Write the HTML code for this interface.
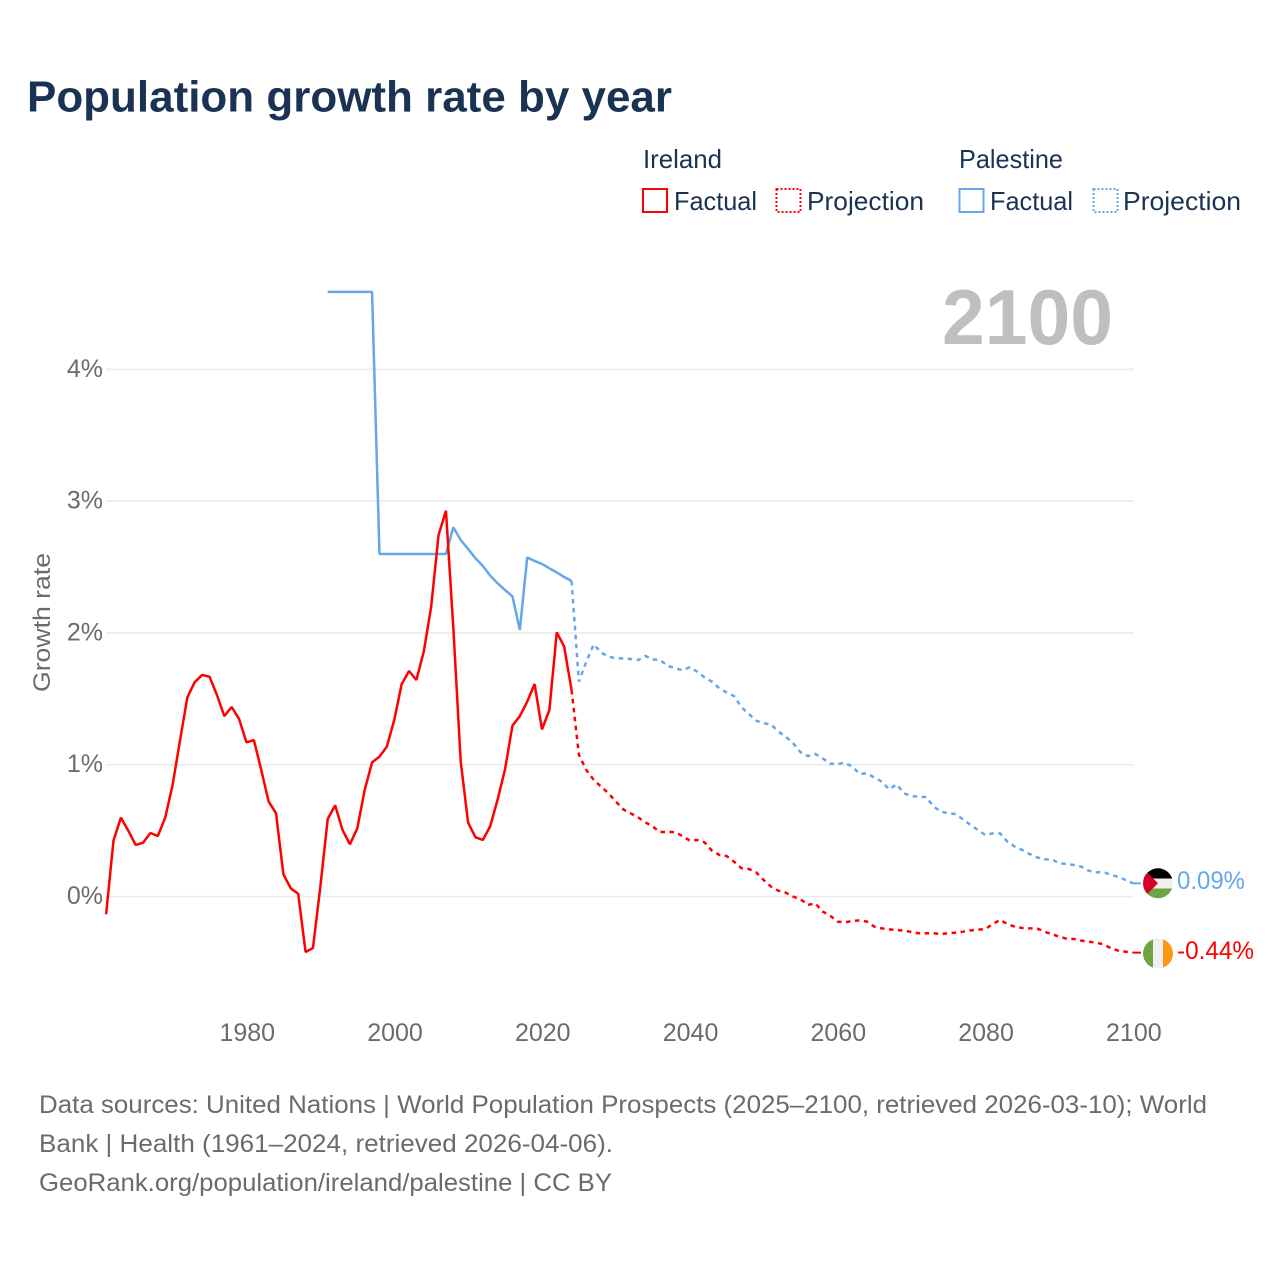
<!DOCTYPE html>
<html lang="en">
<head>
<meta charset="utf-8">
<title>Population growth rate by year</title>
<style>
html,body{margin:0;padding:0;background:#fff;width:1280px;height:1280px;overflow:hidden}
svg{display:block}
text{font-family:"Liberation Sans",sans-serif}
</style>
</head>
<body>
<svg id="chart" width="1280" height="1280" viewBox="0 0 1280 1280">
  <defs>
    <clipPath id="clip-pal"><circle cx="1158" cy="883.3" r="15"/></clipPath>
    <clipPath id="clip-irl"><circle cx="1158" cy="953.5" r="15"/></clipPath>
  </defs>
  <rect x="0" y="0" width="1280" height="1280" fill="#fff"/>
  <text x="27" y="111.5" font-size="44" font-weight="700" fill="#1a3353" textLength="645" lengthAdjust="spacingAndGlyphs">Population growth rate by year</text>

  <g font-size="26" fill="#1a3353">
    <text x="643" y="168" textLength="79" lengthAdjust="spacingAndGlyphs">Ireland</text>
    <text x="959" y="168" textLength="104" lengthAdjust="spacingAndGlyphs">Palestine</text>
    <rect x="643" y="189" width="24" height="23" fill="none" stroke="#ff0000" stroke-width="2"/>
    <text x="674" y="210" textLength="83" lengthAdjust="spacingAndGlyphs">Factual</text>
    <rect x="776.5" y="189" width="24" height="23" fill="none" stroke="#ff0000" stroke-width="2" stroke-dasharray="2 2"/>
    <text x="807" y="210" textLength="117" lengthAdjust="spacingAndGlyphs">Projection</text>
    <rect x="959.5" y="189" width="24" height="23" fill="none" stroke="#62a8ea" stroke-width="2"/>
    <text x="990" y="210" textLength="83" lengthAdjust="spacingAndGlyphs">Factual</text>
    <rect x="1093.5" y="189" width="24" height="23" fill="none" stroke="#62a8ea" stroke-width="2" stroke-dasharray="2 2"/>
    <text x="1123" y="210" textLength="118" lengthAdjust="spacingAndGlyphs">Projection</text>
  </g>

  <g id="grid"></g>
  <g id="yticks"></g>
  <g id="xticks"></g>
  <text transform="translate(50,622.5) rotate(-90)" text-anchor="middle" font-size="24" fill="#6b6b6b" textLength="139" lengthAdjust="spacingAndGlyphs">Growth rate</text>
  <text x="942" y="344" font-size="78" font-weight="700" fill="#bfbfbf" textLength="171" lengthAdjust="spacingAndGlyphs">2100</text>
  <g id="series"></g>

  <g clip-path="url(#clip-pal)">
    <rect x="1143" y="868" width="31" height="10.5" fill="#000"/>
    <rect x="1143" y="878.5" width="31" height="10" fill="#f0f0f0"/>
    <rect x="1143" y="888.5" width="31" height="10" fill="#6da544"/>
    <polygon points="1143,868.3 1158,883.3 1143,898.3" fill="#d80027"/>
  </g>
  <g clip-path="url(#clip-irl)">
    <rect x="1143" y="938" width="10" height="31" fill="#6da544"/>
    <rect x="1153" y="938" width="10" height="31" fill="#f0f0f0"/>
    <rect x="1163" y="938" width="10" height="31" fill="#ff9811"/>
  </g>
  <text x="1177" y="889" font-size="25" fill="#62a8ea" textLength="68" lengthAdjust="spacingAndGlyphs">0.09%</text>
  <text x="1177" y="959" font-size="25" fill="#ff0000" textLength="77" lengthAdjust="spacingAndGlyphs">-0.44%</text>

  <g font-size="25" fill="#6b6b6b">
    <text x="39" y="1113" textLength="1168" lengthAdjust="spacingAndGlyphs">Data sources: United Nations | World Population Prospects (2025–2100, retrieved 2026-03-10); World</text>
    <text x="39" y="1152" textLength="574" lengthAdjust="spacingAndGlyphs">Bank | Health (1961–2024, retrieved 2026-04-06).</text>
    <text x="39" y="1191" textLength="573" lengthAdjust="spacingAndGlyphs">GeoRank.org/population/ireland/palestine | CC BY</text>
  </g>
</svg>
<script>
const yTickValues = [0, 1, 2, 3, 4];
const yTickLabels = ["0%", "1%", "2%", "3%", "4%"];
const xTickYears = [1980, 2000, 2020, 2040, 2060, 2080, 2100];

const irelandFactualStart = 1961;
const irelandFactual = [
  -0.135, 0.424, 0.598, 0.50, 0.391, 0.408, 0.482, 0.459, 0.598, 0.846,
  1.182, 1.511, 1.627, 1.681, 1.668, 1.529, 1.369, 1.438, 1.347, 1.170,
  1.187, 0.960, 0.72, 0.631, 0.168, 0.062, 0.021, -0.421, -0.391, 0.075,
  0.588, 0.692, 0.505, 0.396, 0.517, 0.808, 1.018, 1.061, 1.137, 1.339,
  1.61, 1.711, 1.643, 1.858, 2.199, 2.743, 2.927, 2.035, 1.023, 0.56,
  0.449, 0.429, 0.535, 0.737, 0.965, 1.296, 1.369, 1.478, 1.612, 1.268,
  1.415, 2.004, 1.896, 1.567
];
const irelandProjectionStart = 2024;
const irelandProjection = [
  1.567,
  1.074, 0.96, 0.884, 0.833, 0.783, 0.72, 0.661, 0.631, 0.601, 0.563,
  0.53, 0.489, 0.489, 0.489, 0.459, 0.424, 0.429, 0.411, 0.348, 0.315,
  0.307, 0.264, 0.214, 0.209, 0.183, 0.125, 0.075, 0.044, 0.029, -0.001,
  -0.021, -0.064, -0.052, -0.115, -0.145, -0.191, -0.196, -0.186, -0.181, -0.191,
  -0.229, -0.242, -0.249, -0.254, -0.259, -0.269, -0.279, -0.279, -0.279, -0.285,
  -0.279, -0.274, -0.267, -0.257, -0.252, -0.247, -0.209, -0.178, -0.209, -0.229,
  -0.239, -0.242, -0.242, -0.267, -0.285, -0.305, -0.32, -0.322, -0.335, -0.343,
  -0.35, -0.363, -0.393, -0.411, -0.419, -0.426
];
const palestineFactualStart = 1991;
const palestineFactual = [
  4.587, 4.587, 4.587, 4.587, 4.587, 4.587, 4.587,
  2.599, 2.599, 2.599, 2.599, 2.599, 2.599, 2.599, 2.599, 2.599, 2.599,
  2.801, 2.705, 2.636, 2.566, 2.508, 2.434, 2.376, 2.325, 2.277, 2.022,
  2.573, 2.546, 2.523, 2.49, 2.459, 2.424, 2.394
];
const palestineProjectionStart = 2024;
const palestineProjection = [
  2.394,
  1.63, 1.782, 1.913, 1.85, 1.82, 1.807, 1.807, 1.802, 1.794, 1.825,
  1.799, 1.794, 1.749, 1.734, 1.716, 1.739, 1.706, 1.663, 1.63, 1.58,
  1.547, 1.521, 1.435, 1.385, 1.334, 1.314, 1.306, 1.251, 1.213, 1.162,
  1.094, 1.066, 1.081, 1.048, 1.008, 1.005, 1.015, 0.985, 0.93, 0.935,
  0.902, 0.871, 0.813, 0.851, 0.783, 0.762, 0.757, 0.755, 0.682, 0.644,
  0.631, 0.626, 0.585, 0.543, 0.505, 0.467, 0.479, 0.479, 0.416, 0.378,
  0.353, 0.322, 0.297, 0.282, 0.282, 0.252, 0.247, 0.239, 0.226, 0.196,
  0.183, 0.186, 0.163, 0.15, 0.125, 0.1
];

const NS = "http://www.w3.org/2000/svg";
function xScale(year) { return 106.1 + (year - 1961) * 7.388; }
function yScale(value) { return 896.5 - value * 131.8; }

const grid = document.getElementById("grid");
const yticks = document.getElementById("yticks");
const xticks = document.getElementById("xticks");
const series = document.getElementById("series");

yTickValues.forEach(function (v, i) {
  const line = document.createElementNS(NS, "line");
  
  
  line.setAttribute("x1", 106);
  line.setAttribute("x2", 1134);
  line.setAttribute("y1", yScale(v));
  line.setAttribute("y2", yScale(v));
  line.setAttribute("stroke", "#ececec");
  line.setAttribute("stroke-width", "1.6");
  grid.appendChild(line);

  const label = document.createElementNS(NS, "text");
  
  
  label.setAttribute("x", 103);
  label.setAttribute("y", yScale(v) + 7.5);
  label.setAttribute("text-anchor", "end");
  label.setAttribute("font-size", "25");
  label.setAttribute("fill", "#6b6b6b");
  label.textContent = yTickLabels[i];
  yticks.appendChild(label);
});

xTickYears.forEach(function (year) {
  const label = document.createElementNS(NS, "text");
  
  
  label.setAttribute("x", xScale(year) + 0.8);
  label.setAttribute("y", 1041);
  label.setAttribute("text-anchor", "middle");
  label.setAttribute("font-size", "25");
  label.setAttribute("fill", "#6b6b6b");
  label.textContent = String(year);
  xticks.appendChild(label);
});

function pathFor(values, startYear) {
  return values.map(function (v, i) {
    return (i ? "L" : "M") + xScale(startYear + i).toFixed(2) + " " + yScale(v).toFixed(2);
  }).join(" ");
}

const irelandFactualLine = document.createElementNS(NS, "path");


irelandFactualLine.setAttribute("d", pathFor(irelandFactual, irelandFactualStart));
irelandFactualLine.setAttribute("fill", "none");
irelandFactualLine.setAttribute("stroke", "#ff0000");
irelandFactualLine.setAttribute("stroke-width", "2.5");
irelandFactualLine.setAttribute("stroke-linejoin", "bevel");

const irelandProjectionLine = document.createElementNS(NS, "path");


irelandProjectionLine.setAttribute("d", pathFor(irelandProjection, irelandProjectionStart));
irelandProjectionLine.setAttribute("fill", "none");
irelandProjectionLine.setAttribute("stroke", "#ff0000");
irelandProjectionLine.setAttribute("stroke-width", "2.5");
irelandProjectionLine.setAttribute("stroke-dasharray", "4.5 4.5");

const palestineFactualLine = document.createElementNS(NS, "path");


palestineFactualLine.setAttribute("d", pathFor(palestineFactual, palestineFactualStart));
palestineFactualLine.setAttribute("fill", "none");
palestineFactualLine.setAttribute("stroke", "#62a8ea");
palestineFactualLine.setAttribute("stroke-width", "2.5");
palestineFactualLine.setAttribute("stroke-linejoin", "bevel");

const palestineProjectionLine = document.createElementNS(NS, "path");


palestineProjectionLine.setAttribute("d", pathFor(palestineProjection, palestineProjectionStart));
palestineProjectionLine.setAttribute("fill", "none");
palestineProjectionLine.setAttribute("stroke", "#62a8ea");
palestineProjectionLine.setAttribute("stroke-width", "2.5");
palestineProjectionLine.setAttribute("stroke-dasharray", "4.5 4.5");

series.appendChild(palestineFactualLine);
series.appendChild(palestineProjectionLine);
series.appendChild(irelandFactualLine);
series.appendChild(irelandProjectionLine);

const palestineLeader = document.createElementNS(NS, "line");


palestineLeader.setAttribute("x1", xScale(2100));
palestineLeader.setAttribute("x2", 1141);
palestineLeader.setAttribute("y1", yScale(palestineProjection[palestineProjection.length - 1]));
palestineLeader.setAttribute("y2", yScale(palestineProjection[palestineProjection.length - 1]));
palestineLeader.setAttribute("stroke", "#62a8ea");
palestineLeader.setAttribute("stroke-width", "2");
series.appendChild(palestineLeader);

const irelandLeader = document.createElementNS(NS, "line");


irelandLeader.setAttribute("x1", xScale(2100));
irelandLeader.setAttribute("x2", 1141);
irelandLeader.setAttribute("y1", yScale(irelandProjection[irelandProjection.length - 1]));
irelandLeader.setAttribute("y2", yScale(irelandProjection[irelandProjection.length - 1]));
irelandLeader.setAttribute("stroke", "#ff0000");
irelandLeader.setAttribute("stroke-width", "2");
series.appendChild(irelandLeader);
</script>
</body>
</html>
